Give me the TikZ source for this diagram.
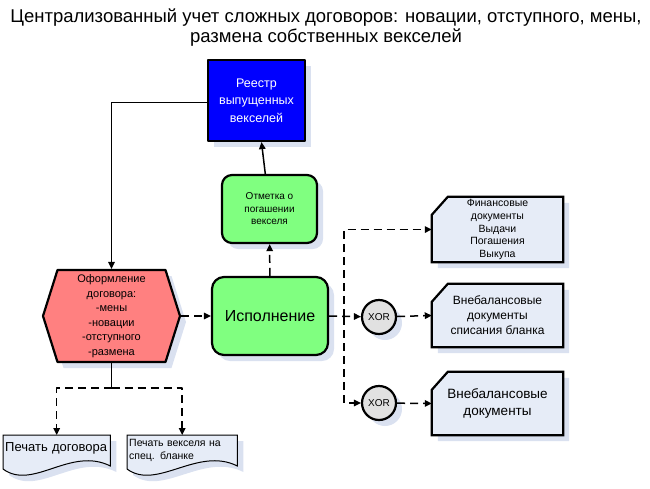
\documentclass[tikz,border=0pt]{standalone}
\usepackage{fontspec}
\setmainfont{Liberation Sans}
\usetikzlibrary{arrows.meta,shapes.symbols,shadows,backgrounds}
\definecolor{shadowc}{RGB}{218,225,240}
\definecolor{docfill}{RGB}{230,236,247}
\definecolor{funcgreen}{RGB}{128,255,128}
\definecolor{evred}{RGB}{255,128,128}
\definecolor{xorgray}{RGB}{225,225,225}
\newcommand{\fs}[2]{\fontsize{#1}{#2}\selectfont}
\tikzset{
  softshadow/.style={drop shadow={shadow xshift=6pt, shadow yshift=-6pt, fill=shadowc, opacity=1}},
  box/.style={draw=black, line width=2.2pt, align=center, inner sep=1pt, softshadow},
  func/.style={box, rounded corners=10pt, fill=funcgreen},
  event/.style={box, signal, signal to=west and east, signal pointer angle=145, fill=evred},
  docbox/.style={align=center, inner sep=1pt, minimum width=131pt},
  docshape/.style={draw=black, line width=2.2pt, fill=docfill, softshadow},
  printdoc/.style={align=left, inner xsep=2pt, anchor=north west},
  printshape/.style={draw=black, line width=1pt, fill=docfill, softshadow},
  xorgate/.style={box, circle, fill=xorgray, minimum size=34pt, inner sep=0pt, font=\fs{10}{12}},
  link/.style={line width=1.5pt, -{Triangle[length=7pt,width=6.5pt]}},
  dlink/.style={link, dash pattern=on 8pt off 5pt},
}
\begin{document}
\begin{tikzpicture}[x=1pt, y=-1pt, line join=round]
  \useasboundingbox (0,0) rectangle (650,488);
  \node (title) at (326,28) [align=center, font=\fs{18.5}{20}]
    {Централизованный учет сложных договоров: новации, отступного, мены,\\
     размена собственных векселей};
  % узлы
  \node (reestr) at (256.5,100.5) [box, fill=blue, text=white, minimum width=97pt,
    minimum height=81pt, font=\fs{12.5}{17.5}] {Реестр\\выпущенных\\векселей};
  \node (otmetka) at (269.5,209) [func, minimum width=95pt, minimum height=68pt,
    font=\fs{10}{12.5}] {Отметка о\\погашении\\векселя};
  \node (isp) at (270,316) [func, rounded corners=12pt, minimum width=116pt,
    minimum height=78pt, font=\fs{16}{19}] {Исполнение};
  \node (oform) at (111.5,316) [event, minimum width=137pt, minimum height=92pt,
    font=\fs{11}{14.5}] {Оформление\\договора:\\-мены\\-новации\\-отступного\\-размена};
  \node (xor1) at (379,317) [xorgate] {XOR};
  \node (xor2) at (379,403) [xorgate] {XOR};
  \node (doc1) at (497.5,229.5) [docbox, minimum height=65pt, font=\fs{10.5}{12.6}]
    {Финансовые\\документы\\Выдачи\\Погашения\\Выкупа};
  \node (doc2) at (497.5,315.5) [docbox, minimum height=63pt, font=\fs{12}{15}]
    {Внебалансовые\\документы\\списания бланка};
  \node (doc3) at (497.5,403.5) [docbox, minimum height=63pt, font=\fs{13.5}{17}]
    {Внебалансовые\\документы};
  \node (pdog) at (3,435) [printdoc, inner ysep=7pt, text width=103pt, font=\fs{13}{15}]
    {Печать договора};
  \node (pveks) at (127,435) [printdoc, inner ysep=4pt, text width=106pt, font=\fs{10.5}{13.5}]
    {Печать векселя на\\спец. бланке};
  \coordinate (split) at (344,317);
  \coordinate (fork) at (oform.south |- 0,388);
  % фигуры документов
  \begin{scope}[on background layer]
    \foreach \d in {doc1,doc2,doc3}
      \path[docshape] (\d.south west) -- ([yshift=-18pt]\d.north west)
        -- ([xshift=16pt]\d.north west) -- (\d.north east) -- (\d.south east) -- cycle;
    \foreach \d in {pdog,pveks}
      \path[printshape] (\d.north west) -- ([yshift=-34pt]\d.north west)
        .. controls +(30,22) and +(-40,-20) .. ([yshift=-31pt]\d.north east)
        -- (\d.north east) -- cycle;
  \end{scope}
  % связи
  \draw[link, {Triangle[length=7pt,width=6.5pt]}-] (oform.north) |- ([yshift=-2pt]reestr.west);
  \draw[link] (otmetka) -- (reestr);
  \draw[dlink] (isp) -- (otmetka);
  \draw[dlink] (oform.east) -- (isp);
  \draw[dlink] (isp.east) -- (xor1);
  \draw[dlink] (split) |- (doc1.west);
  \draw[dlink] (split) |- (xor2.west);
  \draw[dlink] (xor1) -- (doc2.west);
  \draw[dlink] (xor2) -- (doc3.west);
  \draw[line width=1.5pt] (oform.south) -- (fork);
  \draw[dlink] (fork) -| (pdog.north);
  \draw[dlink] (fork) -| (pveks.north);
\end{tikzpicture}
\end{document}
